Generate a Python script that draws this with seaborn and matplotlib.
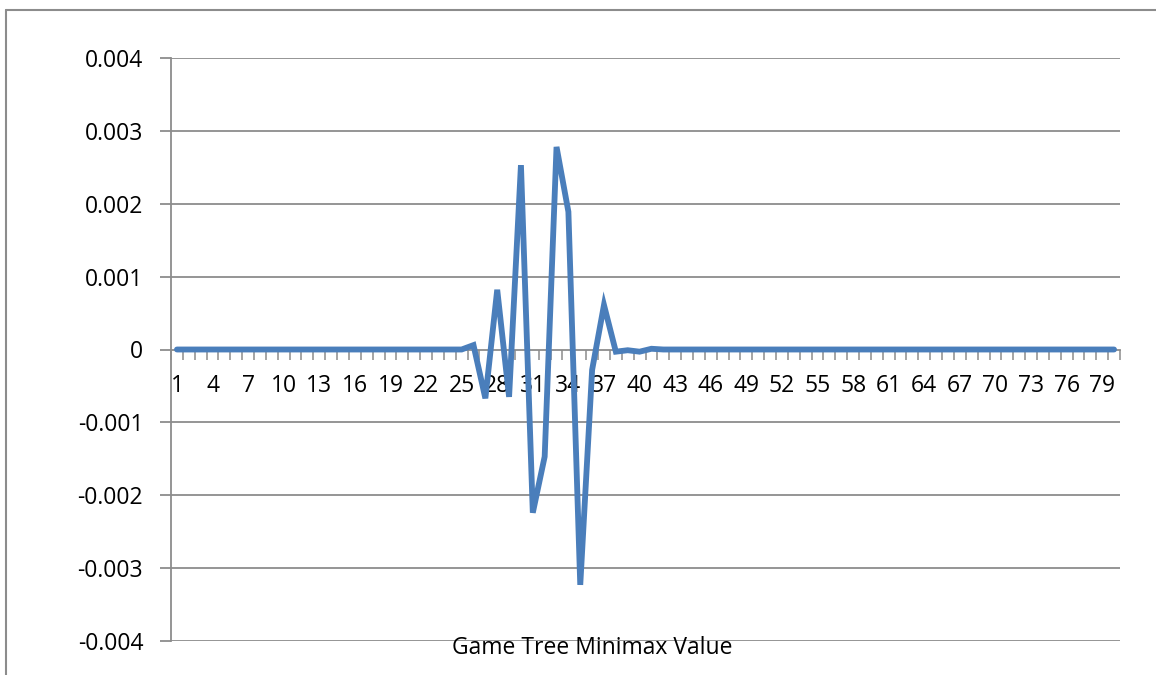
import numpy as np
import pandas as pd
import matplotlib
matplotlib.use("Agg")
import matplotlib.pyplot as plt
from matplotlib.lines import Line2D
from matplotlib.ticker import FixedLocator, FuncFormatter
import seaborn as sns

# ---- data ----
categories = list(range(1, 81))
peak_values = [0.00006, -0.00067, 0.00082, -0.00065, 0.00253, -0.00224, -0.00147,
               0.00278, 0.00189, -0.00323, -0.00028, 0.00061, -0.00003, -0.00001,
               -0.00003, 0.00001]  # categories 26..41
values = [0.0] * 25 + peak_values + [0.0] * (80 - 25 - len(peak_values))
x_tick_labels = [str(c) for c in range(1, 81, 3)]
y_ticks = [-0.004, -0.003, -0.002, -0.001, 0, 0.001, 0.002, 0.003, 0.004]
x_title = "Game Tree Minimax Value"

df = pd.DataFrame({"cat": categories, "value": values})

sns.set_theme(style="white")
plt.rcParams["font.family"] = ["Open Sans", "DejaVu Sans"]

W, H = 1156, 675
fig = plt.figure(figsize=(W / 100, H / 100), dpi=100)
ax = fig.add_axes([171 / W, 1 - 641 / H, (1120 - 171) / W, (641 - 58) / H])

grid_col = "#8c8c8c"
fs = 16.5
for yv in y_ticks:
    if yv != 0:
        ax.axhline(yv, color=grid_col, lw=1.3, zorder=1)

sns.lineplot(data=df, x="cat", y="value", ax=ax, color="#4a7ebb", lw=4.2,
             zorder=3, solid_joinstyle="miter", solid_capstyle="round")

ax.set_xlim(0.5, 80.5)
ax.set_ylim(-0.004, 0.004)

for s in ["top", "right"]:
    ax.spines[s].set_visible(False)
ax.spines["left"].set_color(grid_col)
ax.spines["left"].set_linewidth(1.3)
ax.spines["bottom"].set_position(("data", 0))
ax.spines["bottom"].set_color(grid_col)
ax.spines["bottom"].set_linewidth(1.3)
ax.spines["bottom"].set_zorder(2)

ax.set_yticks(y_ticks)
ax.yaxis.set_major_formatter(FuncFormatter(lambda v, p: "0" if abs(v) < 1e-12 else f"{v:.3f}"))
ax.tick_params(axis="y", which="major", length=8, width=1.3, color=grid_col,
               labelsize=fs, pad=12, left=True, labelcolor="black")

ax.xaxis.set_major_locator(FixedLocator(list(range(1, 81, 3))))
ax.set_xticklabels(x_tick_labels)
ax.xaxis.set_minor_locator(FixedLocator(list(np.arange(0.5, 81, 1.0))))
ax.tick_params(axis="x", which="major", length=0, labelsize=fs, pad=18, bottom=True,
               labelcolor="black")
ax.tick_params(axis="x", which="minor", length=7, width=1.1, color=grid_col,
               direction="out", bottom=True)
for lbl in ax.get_xticklabels():
    lbl.set_zorder(4)

ax.set_xlabel("")
ax.set_ylabel("")
ax.grid(False)

fig.text(592 / W, 1 - 648 / H, x_title, ha="center", va="center", fontsize=fs, color="black")

# outer chart border (top and left visible)
fig.add_artist(Line2D([6 / W, 1.0], [1 - 10 / H, 1 - 10 / H], transform=fig.transFigure,
                      color=grid_col, lw=1.5))
fig.add_artist(Line2D([6 / W, 6 / W], [0, 1 - 10 / H], transform=fig.transFigure,
                      color=grid_col, lw=1.5))

fig.savefig("out.png", dpi=100)
